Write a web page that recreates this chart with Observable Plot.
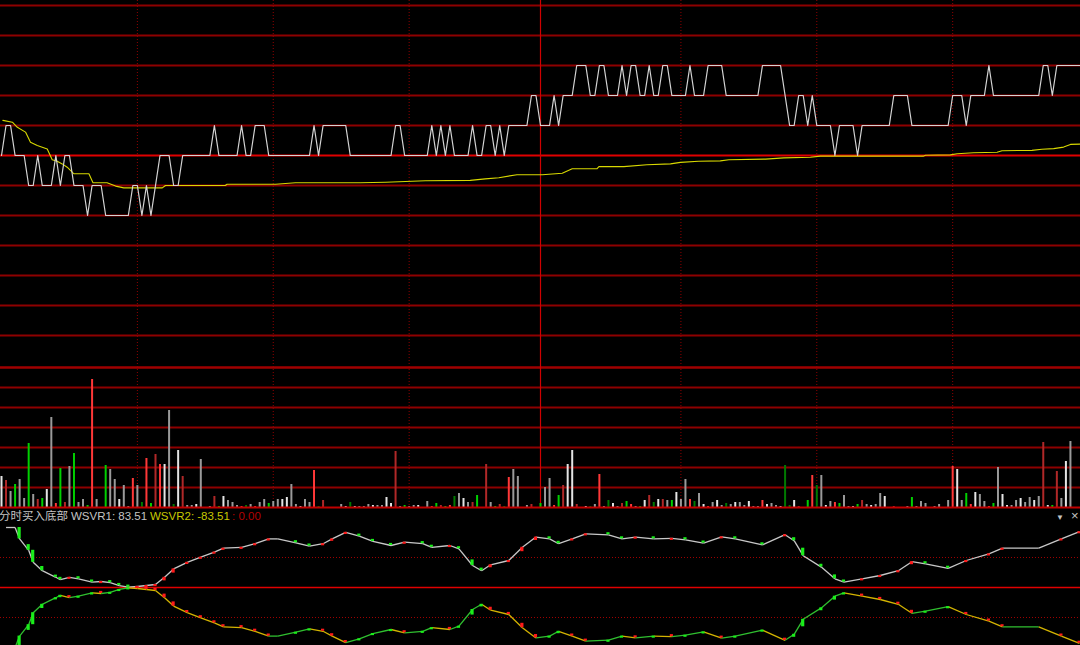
<!DOCTYPE html>
<html><head><meta charset="utf-8">
<script src="https://cdn.jsdelivr.net/npm/d3@7"></script>
<script src="https://cdn.jsdelivr.net/npm/@observablehq/plot@0.6"></script>
<style>
html,body{margin:0;padding:0;background:#000;}
#chart{position:relative;width:1080px;height:645px;background:#000;overflow:hidden;}
#chart svg{position:absolute;left:0;display:block;}
.lbl{position:absolute;top:509px;font-family:"Liberation Sans","Noto Sans CJK SC",sans-serif;font-size:11.5px;line-height:15px;white-space:pre;}
</style></head><body>
<div id="chart"></div>
<script>
// ---------------- DATA ----------------
const basePrice = 6.50, tickSize = 0.01, prevClose = 6.52;
// price per minute, in ticks above basePrice
const priceTicks = [
 2,3,3,2,2,2,1,1,2,1, 1,1,2,1,2,2,1,1,1,0, 1,1,1,0,0,0,0,0,0,1, 1,0,1,0,1,2,2,2,1,1,
 2,2,2,2,2,2,2,3,2,2, 2,2,2,3,2,2,3,3,3,2, 2,2,2,2,2,2,2,2,2,3, 2,3,3,3,3,3,3,2,2,2,
 2,2,2,2,2,2,2,3,3,2, 2,2,2,2,2,3,2,3,2,3, 2,2,2,2,3,2,2,3,3,2, 3,2,3,3,3,3,3,4,4,3,
 3,3,4,3,4,4,4,5,5,5, 4,4,5,5,4,4,4,5,4,5, 5,4,4,5,4,4,5,5,4,4, 4,4,5,4,4,4,5,5,5,5,
 4,4,4,4,4,4,4,4,5,5, 5,5,5,4,3,3,4,4,3,4, 3,3,3,3,2,3,3,3,3,2, 3,3,3,3,3,3,3,4,4,4,
 4,3,3,3,3,3,3,3,3,3, 4,4,4,3,4,4,4,4,5,4, 4,4,4,4,4,4,4,4,4,4, 5,5,4,5,5,5,5,5,5
];
// average price line (minute, price)
const avgMinute = [0.3,2.4,3.5,5.3,6.4,7.9,10.1,11.2,12.3,13.4,14.5,16,19.3,20.2,23.3,25.2,27,35.5,36.2,49.4,49.8,60.5,64.9,79.2,84.8,93.6,103.5,106.8,109.8,113.8,119.4,123.8,126,131.5,131.9,137.4,142.5,147.7,149.9,153.9,158.7,160.6,168.7,172.7,178.6,180.8,203.6,204,209.5,211,214.6,219.8,220.9,227.5,229.7,232.3,234.5,236,238.2];
const avgPrice = [6.5317,6.5311,6.5294,6.5278,6.5244,6.5233,6.5222,6.5186,6.5181,6.5172,6.5161,6.5139,6.5139,6.5109,6.5109,6.5098,6.5092,6.5092,6.5100,6.5100,6.5104,6.5104,6.5109,6.5109,6.5111,6.5116,6.5117,6.5122,6.5126,6.5136,6.5136,6.5141,6.5156,6.5156,6.5163,6.5163,6.5169,6.5172,6.5177,6.5181,6.5182,6.5186,6.5188,6.5192,6.5194,6.5198,6.5198,6.5201,6.5202,6.5206,6.5209,6.5211,6.5216,6.5217,6.5221,6.5223,6.5228,6.5237,6.5238];
// volume per minute
const volume = [
 155,135,80,115,140,45,320,65,40,45, 90,450,20,195,25,205,270,25,40,10, 640,40,0,210,190,140,40,110,5,145,
 110,25,245,20,265,215,215,485,15,285, 155,10,10,15,240,0,5,55,5,55, 35,25,10,5,10,15,5,25,40,20,
 30,40,40,50,115,15,5,40,25,185, 5,35,0,0,0,15,5,25,5,5, 5,15,10,10,10,50,20,280,5,10,
 5,10,10,0,30,5,20,10,5,10, 55,70,45,25,25,60,0,215,25,5, 15,5,150,190,155,0,10,15,0,20,
 100,145,10,60,110,215,285,15,0,5, 5,15,165,5,35,20,5,20,30,15, 5,5,35,60,25,40,40,35,35,75,
 40,140,40,30,70,15,5,25,35,10, 20,15,25,25,10,30,5,5,35,15, 20,10,5,210,10,35,5,0,35,160,
 110,160,10,30,25,20,60,5,5,15, 35,15,10,15,70,55,0,5,0,0, 5,50,5,30,20,0,5,15,0,35,
 205,190,35,70,15,75,65,30,5,20, 200,65,10,10,35,45,25,50,35,55, 325,10,10,180,45,230,330,0,0
];
// bar colour code per minute: w white, g grey, R red, r dark red, G green, d dark green
const volumeCode = (
 "wrgGggGgrG"+"wgRGrgGggG"+"Rg.GggwggR"+"gdRGrRwgdw"+"rggwg.grGw"+"gggRdgRggG"+
 "ggwwggwggR"+"dr...gwdwg"+"ggwggwwrgG"+"ggw.gRGrGR"+"dgwgrG.rgG"+"rdRgg.gr.G"+
 "ggRGrwwr.w"+"dgRgdwgrGR"+"gGwrdwrgGw"+"ggRdgwRgwg"+"dgwggwggRw"+"ggwddwr.GR"+
 "dgwgRGggwG"+"rgwggw.r.."+"gGggg.gg.g"+"RwgGRwggRG"+"gwwggwggwg"+"rwGrgwg.."
).split("");
// indicator WSVR1 (minute, value); WSVR2 = -WSVR1
const wsvrMinute = [1,3,4,6,7,9,12,13,15,17,20,22,24,26,28,30,32,34,36,38,41,44,47,49,53,56,59,61,65,68,71,73,76,79,82,86,89,93,95,99,101,104,106,108,112,115,118,121,123,126,129,134,137,140,144,148,151,155,159,162,168,173,175,177,181,184,186,190,194,198,201,204,209,213,218,221,229,234,238];
const wsvr1 = [100,100,81,62,42,28,17,13,17,14.5,9,10,8,3.3,0.5,1.7,3.3,5,17,31,42,50.5,59,65.5,67,73,81,81,74.5,69,73,81,92,85.5,76.7,70,75.5,73,67,70,64.5,36.7,28,37.8,45,67,84,81,73,81,89.5,87.8,81,84,81,82,79.5,74,84.5,81,71,88,78,53,34,14.5,9,14.5,20,28,43,39.5,32,45,56,65.5,65.5,81,93];
const indicatorName = "分时买入底部";
const legendValues = [["WSVR1", 83.51], ["WSVR2", -83.51], ["", 0.00]];
// grid
const priceGrid = [6.46,6.47,6.48,6.49,6.50,6.51,6.53,6.54,6.55,6.56,6.57];
const halfHourMarks = [30,60,90,150,180,210];
const middayBreak = 119;
const volumeGrid = [100,200,300,400,500,600];
const volumePanelTop = 700;
const indicatorDotted = [50,-50];

// ---------------- BUILD ----------------
const W = 1080;
const gridRed = "#8e0000";
const gridW = 2;
const xOpt = {domain: [0, 238], range: [1, 1079], axis: null};
const volColors = {w:"#e4e4e4", g:"#9a9a9a", R:"#ff3838", r:"#b02828", G:"#00d000", d:"#007a00"};
const chart = document.getElementById("chart");

const priceData = priceTicks.map((k, i) => ({t: i, p: basePrice + k * tickSize}));
const avgData = avgMinute.map((t, i) => ({t, p: avgPrice[i]}));

const pricePlot = Plot.plot({
  width: W, height: 360, margin: 0,
  x: xOpt,
  y: {domain: [6.451667, 6.571667], axis: null},
  style: {background: "transparent"},
  marks: [
    Plot.ruleY(priceGrid, {stroke: gridRed, strokeWidth: gridW}),
    Plot.ruleY([prevClose], {stroke: "#e00000", strokeWidth: 2}),
    Plot.ruleX(halfHourMarks, {stroke: "#900000", strokeDasharray: "1,2"}),
    Plot.ruleX([middayBreak], {stroke: "#d00000", strokeWidth: 1.2}),
    Plot.line(avgData, {x: "t", y: "p", stroke: "#d8d800", strokeWidth: 1.1}),
    Plot.line(priceData, {x: "t", y: "p", stroke: "#d4d4d4", strokeWidth: 1.2})
  ]
});
pricePlot.style.top = "0px";
chart.appendChild(pricePlot);

const volData = volume.map((v, i) => ({t: i, v, c: volumeCode[i]})).filter(d => d.v > 0);
const volPlot = Plot.plot({
  width: W, height: 149, marginTop: 0, marginBottom: 2, marginLeft: 0, marginRight: 0,
  x: xOpt,
  y: {domain: [0, 735], axis: null},
  color: {type: "identity"},
  style: {background: "transparent"},
  marks: [
    Plot.ruleY(volumeGrid, {stroke: gridRed, strokeWidth: gridW}),
    Plot.ruleY([volumePanelTop], {stroke: "#a00000", strokeWidth: 2.5}),
    Plot.ruleX(halfHourMarks, {stroke: "#900000", strokeDasharray: "1,2"}),
    Plot.ruleX([middayBreak], {stroke: "#d00000", strokeWidth: 1.2}),
    Plot.ruleX(volData, {x: "t", y1: 0, y2: "v", stroke: d => volColors[d.c], strokeWidth: 2}),
    Plot.ruleY([0], {stroke: "#c00000", strokeWidth: 2})
  ]
});
volPlot.style.top = "360px";
chart.appendChild(volPlot);

// indicator segments and markers
const knots = wsvrMinute.map((t, i) => ({t, v: wsvr1[i]}));
const segs = knots.slice(1).map((k, j) => ({t1: knots[j].t, v1: knots[j].v, t2: k.t, v2: k.v, dv: k.v - knots[j].v}));
const markers = segs.filter(s => s.dv !== 0).map(s => {
  let step = s.dv / (s.t2 - s.t1);
  if (Math.abs(step) < 3.5) step = Math.sign(step) * 3.5;
  return {t: s.t2, a: s.v2, b: s.v2 - step, up: s.dv > 0};
});
const indPlot = Plot.plot({
  width: W, height: 136, margin: 0,
  x: xOpt,
  y: {domain: [-96.667, 130], axis: null},
  color: {type: "identity"},
  style: {background: "transparent"},
  marks: [
    Plot.ruleY(indicatorDotted, {stroke: "#a00000", strokeDasharray: "1,2"}),
    Plot.ruleY([0], {stroke: "#e00000", strokeWidth: 1.6}),
    Plot.link(segs, {x1: "t1", y1: "v1", x2: "t2", y2: "v2", stroke: "#c8c8c8", strokeWidth: 1.3}),
    Plot.link(segs, {x1: "t1", y1: d => -d.v1, x2: "t2", y2: d => -d.v2,
      stroke: d => d.dv <= 0 ? "#30c030" : "#d4b400", strokeWidth: 1.3}),
    Plot.rect(markers, {x1: d => d.t - 0.35, x2: d => d.t + 0.35, y1: "a", y2: "b",
      fill: d => d.up ? "#ff1a1a" : "#1aee1a"}),
    Plot.rect(markers, {x1: d => d.t - 0.35, x2: d => d.t + 0.35, y1: d => -d.a, y2: d => -d.b,
      fill: d => d.up ? "#ff1a1a" : "#1aee1a"})
  ]
});
indPlot.style.top = "509px";
chart.appendChild(indPlot);

// header text
function label(text, left, color) {
  const el = document.createElement("div");
  el.className = "lbl";
  el.style.left = left + "px";
  el.style.color = color;
  el.textContent = text;
  chart.appendChild(el);
}
label(indicatorName, -1, "#c4c4c4");
label(`${legendValues[0][0]}: ${legendValues[0][1].toFixed(2)}`, 71, "#c4c4c4");
label(`${legendValues[1][0]}: ${legendValues[1][1].toFixed(2)}`, 150, "#c8c800");
label(`: ${legendValues[2][1].toFixed(2)}`, 232, "#b40000");
const tri = document.createElement("div");
tri.className = "lbl"; tri.style.left = "1056px"; tri.style.top = "510px";
tri.style.fontSize = "8px"; tri.style.color = "#c4c4c4"; tri.textContent = "▼";
chart.appendChild(tri);
const cls = document.createElement("div");
cls.className = "lbl"; cls.style.left = "1071px"; cls.style.top = "508px";
cls.style.fontSize = "13px"; cls.style.color = "#c4c4c4"; cls.textContent = "×";
chart.appendChild(cls);
</script></body></html>
